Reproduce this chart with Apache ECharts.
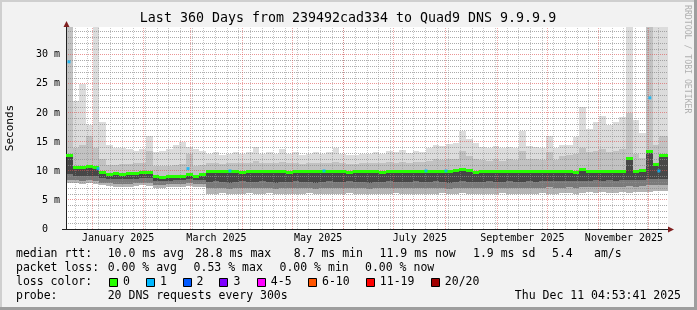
<!DOCTYPE html>
<html><head><meta charset="utf-8">
<script src="https://cdn.jsdelivr.net/npm/echarts@6/dist/echarts.min.js"></script>
<style>html,body{margin:0;padding:0;background:#f2f2f2}#c{width:697px;height:310px}</style>
</head><body><div id="c"></div>
<script>
// ---------- DATA ----------
// x scale: days since Sunday 2024-12-29 00:00 UTC
const rangeStart = '2024-12-16 05:17';
const rangeEnd = '2025-12-12 09:36';
const stepDays = 4; // each value covers 4 days

const medianMs = [
 12.8,10.7,10.6,10.8,10.7,9.9,9.5,9.6,9.5,9.6,
 9.7,9.9,9.9,9.1,9.0,9.1,9.2,9.2,9.5,9.2,
 9.4,10.0,10.0,10.0,10.0,10.0,9.9,10.0,10.0,10.0,
 10.0,10.0,10.0,9.9,10.0,10.0,10.0,10.0,10.0,10.0,
 10.0,10.0,9.9,10.0,10.0,10.0,10.0,9.9,10.0,10.0,
 10.0,10.0,10.0,10.0,10.0,10.0,10.0,10.0,10.1,10.3,
 10.2,9.8,10.0,10.0,10.0,10.0,10.0,10.0,10.0,10.0,
 10.0,10.0,10.0,10.0,10.0,10.0,9.9,10.4,10.0,10.0,
 10.0,10.0,10.0,10.0,12.3,10.0,10.1,13.4,11.2,12.8
];
const smokeLo = [
 8.0,7.9,7.8,7.9,7.8,7.5,7.4,7.3,7.3,7.3,
 7.4,7.5,7.4,7.1,7.1,7.2,7.2,7.2,7.4,7.3,
 7.3,6.1,6.1,6.2,6.1,6.0,6.1,6.2,6.1,6.1,
 6.2,6.1,6.1,6.0,6.1,6.1,6.2,6.1,6.1,6.0,
 6.1,6.1,6.2,6.1,6.1,6.1,6.0,6.1,6.1,6.2,
 6.1,6.1,6.1,6.0,6.1,6.1,6.2,6.1,6.1,6.2,
 6.1,6.0,6.1,6.1,6.1,6.2,6.1,6.1,6.0,6.1,
 6.1,6.2,6.1,6.1,6.2,6.2,6.1,6.2,6.3,6.2,
 6.3,6.2,6.2,6.3,6.2,6.3,6.4,6.3,6.5,6.6
];
const smokeL2 = [
 8.5,8.4,8.3,8.4,8.3,8.0,7.9,7.8,7.8,7.8,
 7.9,8.0,7.9,7.6,7.6,7.7,7.7,7.7,7.9,7.8,7.8,
 7.0,7.1,7.0,6.9,7.0,7.1,7.0,7.0,7.1,7.0,
 6.9,7.0,7.0,7.1,7.0,7.0,6.9,7.0,7.1,7.0,
 7.0,7.1,7.0,7.0,6.9,7.0,7.0,7.1,7.0,7.0,
 7.0,7.1,7.0,7.0,7.1,7.0,6.9,7.0,7.1,7.0,
 7.0,7.0,7.1,7.0,7.0,7.1,7.0,7.0,7.1,7.0,
 7.1,7.2,7.1,7.1,7.2,7.1,7.2,7.2,7.3,7.2,
 7.3,7.2,7.3,7.4,7.3,7.4,7.5,7.5,7.6
];
const smokeD1 = [
 9.4,9.2,9.1,9.2,9.2,8.8,8.7,8.7,8.6,8.7,
 8.7,8.8,8.8,8.3,8.3,8.3,8.4,8.4,8.6,8.4,8.5,
 8.1,8.2,8.1,8.0,8.1,8.2,8.1,8.1,8.2,8.1,
 8.0,8.1,8.1,8.2,8.1,8.1,8.0,8.1,8.2,8.1,
 8.1,8.2,8.1,8.1,8.0,8.1,8.1,8.2,8.1,8.1,
 8.1,8.2,8.1,8.1,8.2,8.1,8.0,8.1,8.2,8.1,
 8.1,8.1,8.2,8.1,8.1,8.2,8.1,8.1,8.2,8.1,
 8.2,8.3,8.2,8.2,8.3,8.2,8.3,8.3,8.4,8.3,
 8.4,8.3,8.4,8.5,8.4,8.5,8.6,8.6,8.7
];
const smokeU1 = [
 35,14,14.5,16,14,12,11,11,11.2,11.2,
 11.3,11.3,13.5,10.8,10.8,10.9,11.0,11.2,13.0,10.9,11.0,
 11.3,11.4,11.2,11.3,11.4,11.3,11.3,11.8,11.3,11.4,
 11.3,11.6,11.3,11.4,11.2,11.3,11.4,11.3,11.4,11.6,
 11.3,11.2,11.2,11.3,11.3,11.4,11.3,11.5,11.4,11.6,
 11.4,11.6,11.5,11.8,12.0,11.9,12.0,12.1,13.5,12.6,
 12.1,11.9,11.8,12.0,11.8,12.0,11.9,13.5,12.0,12.0,
 11.9,13.2,11.9,
 12.5,12.8,13.0,14.0,13.2,13.5,13.8,13.2,13.5,13.8,20,13.0,12.2,35,14.5,16
];
const smokeHi = [
 35,22,25,18,35,18.5,14.5,14,14,13.8,
 13.5,13.8,16.1,13.3,13.5,13.8,14.5,15,14.1,13.8,13.5,
 13.0,13.2,12.8,13.0,13.3,13.0,13.2,14.2,13.0,13.2,
 12.9,13.8,13.0,13.2,12.8,13.0,13.3,13.0,13.2,13.9,
 13.0,12.8,12.7,13.0,12.9,13.3,13.0,13.4,13.2,13.6,
 13.1,13.5,13.3,14.0,14.5,14.3,14.6,14.8,16.8,15.5,
 14.8,14.2,14.0,14.3,13.9,14.2,14.0,16.9,14.3,14.2,
 14.0,16.0,14.0,14.5,14.5,15.8,21.0,17.2,18.5,19.5,
 18.0,18.5,19.3,35,18.7,16.5,35,35,35
];
// median samples with 1/20 packet loss
const lossDates = ['2024-12-18 00:30','2025-01-04 10:00','2025-02-27 10:00','2025-03-24 14:00','2025-05-20 00:00','2025-07-20 05:00','2025-08-01 05:00','2025-12-01 12:00','2025-12-06 22:00'];
const lossValues = [28.8,10.4,10.4,10.0,10.0,10.0,10.0,22.6,10.0];

const monthStarts = ['2025-01-01','2025-02-01','2025-03-01','2025-04-01','2025-05-01','2025-06-01','2025-07-01','2025-08-01','2025-09-01','2025-10-01','2025-11-01','2025-12-01'];
const xLabelDates = ['2025-01-16 12:00','2025-03-16 12:00','2025-05-16 12:00','2025-07-16 12:00','2025-09-16 00:00','2025-11-16 00:00'];
const xLabels = ['January 2025','March 2025','May 2025','July 2025','September 2025','November 2025'];
const yMax = 34.8;

const legendRtt = [['median rtt:',16],['10.0 ms avg',107.7],['28.8 ms max',195],['8.7 ms min',293.7],['11.9 ms now',379.6],['1.9 ms sd',473],['5.4',552],['am/s',594]];
const legendLoss = [['packet loss:',16],['0.00 % avg',107.7],['0.53 % max',193.6],['0.00 % min',279.5],['0.00 % now',365]];
const lossLabels = ['0','1','2','3','4-5','6-10','11-19','20/20'];
const lossColors = ['#26ff00','#00b8ff','#0059ff','#7e00ff','#ff00ff','#ff5500','#ff0000','#a10000'];

// ---------- BUILD ----------
const EPOCH = Date.UTC(2024, 11, 29);
const DAY = 86400000;
function dayOf(s){
  const [d,t] = s.split(' ');
  const [Y,M,D] = d.split('-').map(Number);
  let h=0,m=0; if(t){[h,m]=t.split(':').map(Number);}
  return (Date.UTC(Y,M-1,D,h,m) - EPOCH)/DAY;
}
const X0 = dayOf(rangeStart), X1 = dayOf(rangeEnd);
const N = medianMs.length;
const smokeData = [], medData = [];
for (let i=0;i<N;i++){
  const a = X0 + i*stepDays, b = (i===N-1) ? X1 : a + stepDays;
  smokeData.push([a,b,smokeLo[i],smokeL2[i],smokeD1[i],medianMs[i],smokeU1[i],smokeHi[i]]);
  medData.push([a,b,medianMs[i]]);
}
const weekDays = [];
for (let d = Math.ceil(X0/7)*7; d <= X1; d += 7) weekDays.push(d);
const monthDays = monthStarts.map(dayOf);
const msLevels = [];
for (let v = 1; v < yMax; v++) msLevels.push(v);
const labelDays = xLabelDates.map(dayOf);
const lossData = lossDates.map((s,i)=>[dayOf(s), lossValues[i]]);

const BAND = ['#b4b4b4','#7a7a7a','#474747','#c2c2c2','#dcdcdc'];
const MONO = 'DejaVu Sans Mono';
const GRID_MINOR = 'rgba(143,143,143,0.75)', GRID_MAJOR = 'rgba(222,79,79,0.6)';
const VGRID_MINOR = 'rgba(143,143,143,0.5)', VGRID_MAJOR = 'rgba(222,79,79,0.5)';

function renderSmoke(params, api){
  const cs = params.coordSys;
  const x0 = Math.round(api.coord([api.value(0),0])[0]);
  const x1 = Math.round(api.coord([api.value(1),0])[0]);
  const ys = [2,3,4,5,6,7].map(d => Math.max(cs.y, Math.round(api.coord([api.value(0), api.value(d)])[1])));
  const children = [];
  for (let k=0;k<5;k++){
    const yb = ys[k], yt = ys[k+1];
    if (yb > yt) children.push({type:'rect', shape:{x:x0,y:yt,width:x1-x0,height:yb-yt}, style:{fill:BAND[k]}});
  }
  return {type:'group', children};
}
function renderMedian(params, api){
  const x0 = Math.round(api.coord([api.value(0),0])[0]);
  const x1 = Math.round(api.coord([api.value(1),0])[0]);
  const y = Math.round(api.coord([api.value(0), api.value(2)])[1]);
  return {type:'rect', shape:{x:x0,y:y-1,width:x1-x0,height:3}, style:{fill:lossColors[0]}};
}
function renderHGrid(params, api){
  const cs = params.coordSys;
  const ch = [];
  msLevels.forEach(v => {
    const y = Math.floor(api.coord([X0, v])[1]) + 0.5;
    ch.push({type:'line', shape:{x1:cs.x,y1:y,x2:cs.x+cs.width,y2:y},
      style:{stroke:(v % 5) ? GRID_MINOR : GRID_MAJOR, lineWidth:1, lineDash:[1,1]}});
  });
  return {type:'group', children:ch};
}

const g = [];
function txt(text, x, y, o){
  o = o || {};
  g.push({type:'text', x, y, rotation:o.rot||0, silent:true,
    style:{text, fill:o.fill||'#000', fontFamily:MONO, fontSize:o.size||11.5,
      align:o.align||'left', verticalAlign:'middle'}});
}
g.push({type:'rect', shape:{x:0,y:0,width:697,height:2}, style:{fill:'#cfcfcf'}, silent:true});
g.push({type:'rect', shape:{x:0,y:0,width:2,height:310}, style:{fill:'#cfcfcf'}, silent:true});
g.push({type:'rect', shape:{x:694,y:0,width:3,height:310}, style:{fill:'#9e9e9e'}, silent:true});
g.push({type:'rect', shape:{x:0,y:307,width:697,height:3}, style:{fill:'#9e9e9e'}, silent:true});
txt('Last 360 Days from 239492cad334 to Quad9 DNS 9.9.9.9', 348, 18.5, {size:13.3, align:'center'});
txt('Seconds', 10, 128, {size:11, align:'center', rot:Math.PI/2});
txt('RRDTOOL / TOBI OETIKER', 687, 5, {size:8.2, fill:'#b0b0b0', rot:-Math.PI/2});
legendRtt.forEach(([t,x]) => txt(t, x, 254.5));
legendLoss.forEach(([t,x]) => txt(t, x, 268.5));
txt('loss color:', 16, 282.3);
const boxX = [109,146,182.5,219.4,256.8,308,365.8,430.8];
lossLabels.forEach((t,i) => {
  g.push({type:'rect', shape:{x:Math.round(boxX[i])+0.5, y:278.5, width:8, height:8}, style:{fill:lossColors[i], stroke:'#000', lineWidth:1}, silent:true});
  txt(t, boxX[i]+14, 282.3);
});
txt('probe:', 16, 296);
txt('20 DNS requests every 300s', 107.7, 296);
txt('Thu Dec 11 04:53:41 2025', 681, 296, {align:'right'});
g.push({type:'line', shape:{x1:62,y1:229.5,x2:67,y2:229.5}, style:{stroke:'#202020', lineWidth:1}, silent:true, z:10});
g.push({type:'polygon', shape:{points:[[63.5,27],[69.5,27],[66.5,21]]}, style:{fill:'#802020'}, silent:true, z:10});
g.push({type:'polygon', shape:{points:[[668,226.5],[668,232.5],[674,229.5]]}, style:{fill:'#802020'}, silent:true, z:10});

const chart = echarts.init(document.getElementById('c'), null, {renderer:'canvas'});
const baseOption = {
  animation:false,
  backgroundColor:'#f2f2f2',
  textStyle:{fontFamily:MONO},
  grid:{left:66, top:27, width:602, height:202, show:true, backgroundColor:'#ffffff', borderWidth:0, containLabel:false},
  xAxis:[{type:'value', min:X0, max:X1, z:4,
    axisLine:{show:true, onZero:false, lineStyle:{color:'#202020', width:1}},
    axisTick:{show:false}, splitLine:{show:false},
    axisLabel:{customValues:labelDays, margin:4, fontSize:10, fontFamily:MONO, color:'#000',
      formatter:(v)=>{const i = labelDays.findIndex(d=>Math.abs(d-v)<1e-6); return i>=0 ? xLabels[i] : '';}}
  }],
  yAxis:[
    {type:'value', min:0, max:yMax, interval:5, z:4,
     axisLine:{show:true, onZero:false, lineStyle:{color:'#202020', width:1}}, axisTick:{show:false},
     axisLabel:{showMaxLabel:false, margin:6, fontSize:10, fontFamily:MONO, color:'#000',
       formatter:(v)=> v===0 ? '0  ' : (v%5===0 ? v+' m' : '')},
     splitLine:{show:false}}
  ],
  series:[
    {type:'custom', name:'smoke', renderItem:renderSmoke, data:smokeData, z:1, silent:true,
     encode:{x:[0,1], y:[2,3,4,5,6,7]}},
    {type:'custom', name:'hgrid', renderItem:renderHGrid, data:[[X0, 1]], z:3, silent:true,
     encode:{x:0, y:1}},
    {type:'custom', name:'median', renderItem:renderMedian, data:medData, z:5, silent:true,
     encode:{x:[0,1], y:2}},
    {type:'scatter', name:'loss 1', data:lossData, symbol:'rect', symbolSize:[3,3], z:6, silent:true,
     itemStyle:{color:lossColors[1]}},
    {type:'line', name:'vgrid', data:[], z:3, silent:true, showSymbol:false}
  ],
  graphic:{elements:g}
};
chart.setOption(baseOption);
// vertical grid lines as mark lines, snapped to pixel centres through the x axis scale
const snap = d => {
  const px = chart.convertToPixel({xAxisIndex:0}, d);
  return chart.convertFromPixel({xAxisIndex:0}, Math.floor(px) + 0.5);
};
const vLines = weekDays.map(d => ({xAxis:snap(d), lineStyle:{color:VGRID_MINOR}}))
  .concat(monthDays.map(d => ({xAxis:snap(d), lineStyle:{color:VGRID_MAJOR}})));
chart.setOption({series:[{},{},{},{},{
  type:'line', name:'vgrid', data:[], z:3, silent:true,
  markLine:{silent:true, z:3, symbol:['none','none'], animation:false, label:{show:false},
    lineStyle:{width:1, type:[1,1]}, emphasis:{disabled:true}, data:vLines}
}]});
</script></body></html>
